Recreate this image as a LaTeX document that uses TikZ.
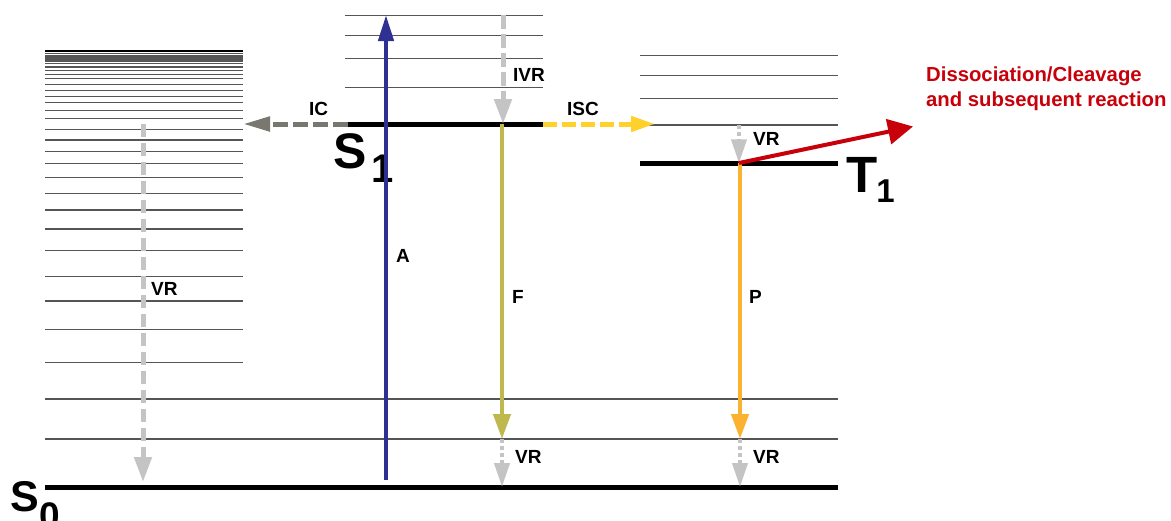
\documentclass[tikz,border=0pt]{standalone}
\usepackage{fontspec}
\setmainfont{Liberation Sans}
\usetikzlibrary{arrows.meta}
\definecolor{absblue}{RGB}{46,49,146}
\definecolor{fluoolive}{RGB}{190,184,78}
\definecolor{phosorange}{RGB}{251,178,48}
\definecolor{iscyellow}{RGB}{255,209,42}
\definecolor{icgray}{RGB}{120,120,112}
\definecolor{vrgray}{RGB}{196,196,196}
\definecolor{reactred}{RGB}{200,0,10}
\definecolor{levelgray}{RGB}{85,85,85}
\tikzset{
  vlevel/.style={draw=levelgray, line width=1.1pt},
  elevel/.style={draw=black, line width=5pt},
  lbl/.style={font=\bfseries\fontsize{19}{19}\selectfont, anchor=base west, inner sep=0pt},
  statelbl/.style={font=\bfseries, anchor=base west, inner sep=0pt},
  radiative/.style={line width=4.5pt},
  vrlong/.style={draw=vrgray, line width=5pt, dash pattern=on 13pt off 6pt,
    -{Triangle[width=17pt,length=25pt]}},
  vrshort/.style={draw=vrgray, line width=4pt, dash pattern=on 4pt off 3pt,
    -{Triangle[width=15pt,length=24pt]}},
}
\begin{document}
\begin{tikzpicture}[x=1pt,y=-1pt]
\useasboundingbox (0,0) rectangle (1171,520);

% vibrational levels of the ground state (anharmonic ladder)
\draw[black, line width=2.6pt] (45,51) -- (243,51);
\foreach \yy in {53.5,55.2,57,59,61,63.3,67,70.7,74.7,78.7,84.3,90.5,96.7,102.7,110.7,118.7,129.3,140,151.3,163.7,177.3,193.3,210,229,250.7,276.7,301,329.3,362.3}
  \draw[vlevel] (45,\yy) -- (243,\yy);
\draw[vlevel] (45,399) -- (838,399);
\draw[vlevel] (45,439) -- (838,439);

% vibrational levels of S1 and T1
\foreach \yy in {15.7,35.7,58.3,87.3}
  \draw[vlevel] (345,\yy) -- (543,\yy);
\foreach \yy in {55.7,75.7,98.3,125}
  \draw[vlevel] (640,\yy) -- (838,\yy);

% electronic states
\coordinate (s0l) at (45,487);   \coordinate (s0r) at (838,487);
\coordinate (s1l) at (348,124);  \coordinate (s1r) at (543,124);
\coordinate (t1l) at (640,163.3);\coordinate (t1r) at (838,163.3);
\draw[elevel] (s0l) -- (s0r);
\draw[elevel] (s1l) -- (s1r);
\draw[elevel] (t1l) -- (t1r);

\node[statelbl, font=\bfseries\fontsize{43}{43}\selectfont] (S0) at (10,511)
  {S\kern1pt\raisebox{-17pt}{\fontsize{37}{37}\selectfont 0}};
\node[statelbl, font=\bfseries\fontsize{50}{50}\selectfont] (S1) at (333,168)
  {S\kern5pt\raisebox{-14pt}{\fontsize{40}{40}\selectfont 1}};
\node[statelbl, font=\bfseries\fontsize{51}{51}\selectfont] (T1) at (846,192)
  {T\kern-1pt\raisebox{-10pt}{\fontsize{33}{33}\selectfont 1}};

% absorption
\coordinate (a0) at (386,480);
\coordinate (a1) at (386,15);
\draw[absblue, radiative, -{Triangle[width=15pt,length=26pt]}] (a0) -- (a1);
\node[lbl] (lA) at (396,262) {A};

% internal vibrational relaxation in S1
\coordinate (ivr0) at (503,15);
\coordinate (ivr1) at (503,124);
\draw[vrlong, dash pattern=on 14pt off 5pt] (ivr0) -- (ivr1);
\node[lbl] (lIVR) at (513,81.5) {IVR};

% internal conversion
\coordinate (ic1) at (243,124);
\draw[icgray, line width=5pt, dash pattern=on 15pt off 5pt,
  -{Triangle[width=14pt,length=27pt]}] (s1l) -- (ic1);
\node[lbl] (lIC) at (309,115) {IC};

% intersystem crossing
\coordinate (isc1) at (655,124);
\draw[iscyellow, line width=5pt, dash pattern=on 14pt off 5pt,
  -{Triangle[width=15pt,length=24pt]}] (s1r) -- (isc1);
\node[lbl] (lISC) at (567,115) {ISC};

% vibrational relaxation down the ground-state ladder
\coordinate (vr0) at (143,124);
\coordinate (vr1) at (143,482);
\draw[vrlong] (vr0) -- (vr1);
\node[lbl] (lVR) at (151,295) {VR};

% fluorescence
\coordinate (f0) at (502,124);
\coordinate (f1) at (502,439);
\draw[fluoolive, radiative, -{Triangle[width=17pt,length=25pt]}] (f0) -- (f1);
\node[lbl] (lF) at (512,303) {F};
\coordinate (fv1) at (502,487);
\draw[vrshort] (f1) -- (fv1);
\node[lbl] (lVRf) at (515,463) {VR};

% vibrational relaxation into T1
\coordinate (tv0) at (739,125);
\coordinate (tv1) at (739,163.3);
\draw[vrshort] (tv0) -- (tv1);
\node[lbl] (lVRt) at (753,145) {VR};

% phosphorescence
\coordinate (p0) at (740,163.3);
\coordinate (p1) at (740,439);
\draw[phosorange, radiative, -{Triangle[width=17pt,length=25pt]}] (p0) -- (p1);
\node[lbl] (lP) at (749,303) {P};
\coordinate (pv1) at (740,487);
\draw[vrshort] (p1) -- (pv1);
\node[lbl] (lVRp) at (753,463) {VR};

% dissociation channel from T1
\coordinate (r0) at (739,163);
\coordinate (r1) at (913,126.5);
\draw[reactred, line width=4pt, -{Triangle[width=25pt,length=25pt]}] (r0) -- (r1);
\node[font=\bfseries\fontsize{20.3}{25}\selectfont, text=reactred, anchor=base west,
  inner sep=0pt, align=left] (react) at (926,106.7)
  {Dissociation/Cleavage\\and subsequent reaction};
\end{tikzpicture}
\end{document}
